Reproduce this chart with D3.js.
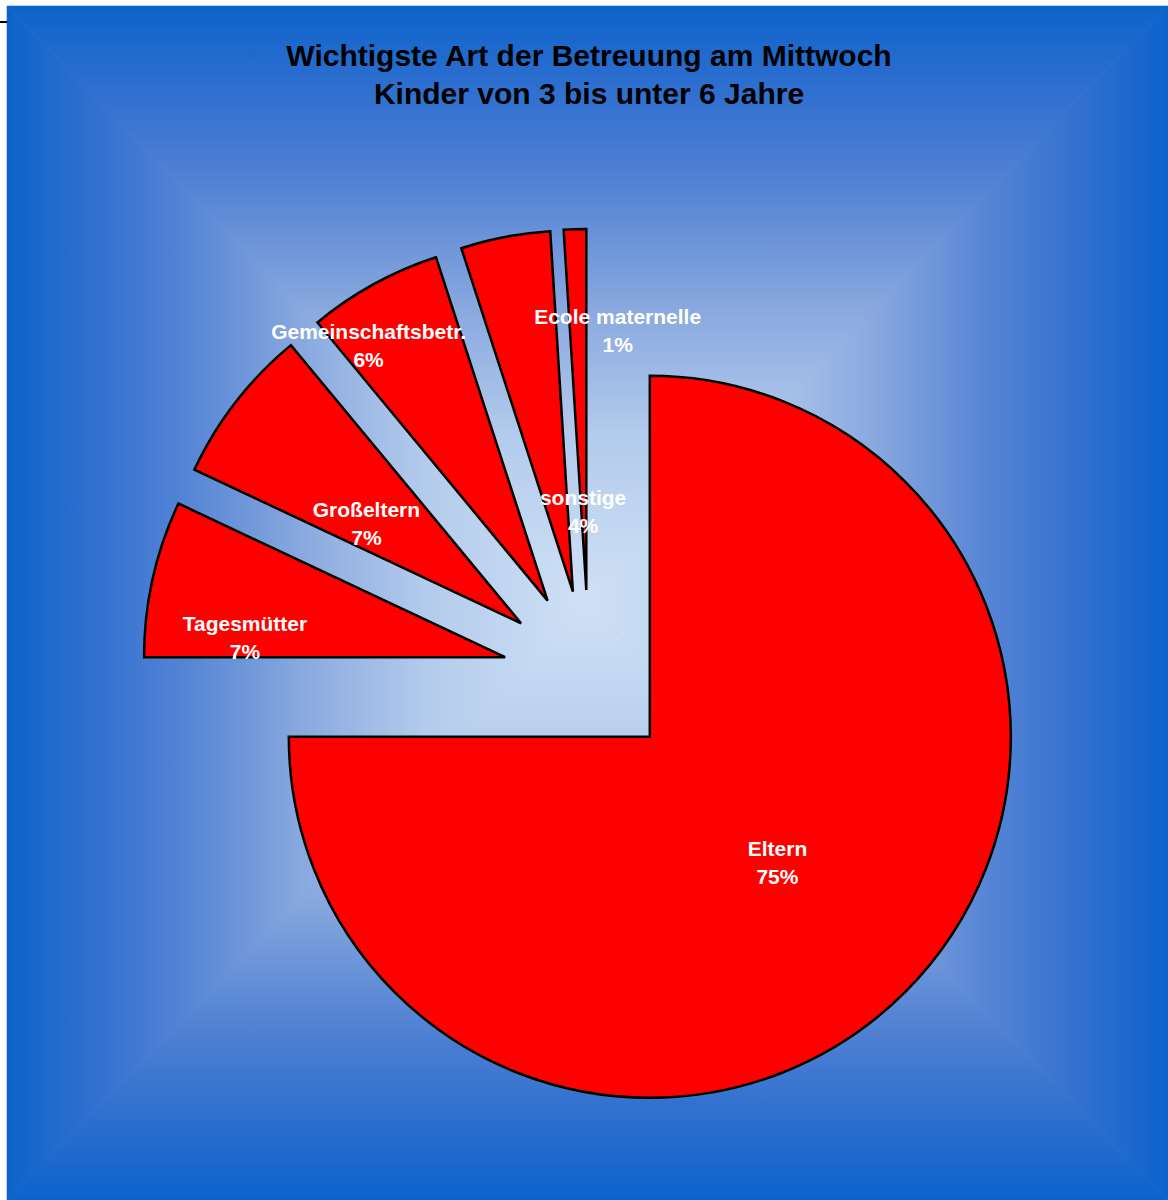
<!DOCTYPE html>
<html>
<head>
<meta charset="utf-8">
<script src="https://cdn.jsdelivr.net/npm/d3@7"></script>
<style>
  html, body { margin: 0; padding: 0; background: #ffffff; }
  svg { display: block; }
</style>
</head>
<body>
<div id="chart"></div>
<script>
// Data: main care type on Wednesday, children aged 3 to under 6
const categories = ["Eltern", "Tagesmütter", "Großeltern", "Gemeinschaftsbetr.", "sonstige", "Ecole maternelle"];
const shares = [75, 7, 7, 6, 4, 1];
const titleLines = ["Wichtigste Art der Betreuung am Mittwoch", "Kinder von 3 bis unter 6 Jahre"];
// label placement tweaks relative to each slice centroid
const labelNudge = [[0, -1], [-84, 20], [-12, 11], [-92, -96], [44, 98], [37, -79]];

const W = 1168, H = 1200;
const bg = { x0: 7, y0: 6, x1: 1168, y1: 1200 };
const pieCenter = [589, 676];
const radius = 361;
const explode = 86;

const svg = d3.select("#chart").append("svg")
  .attr("width", W).attr("height", H);

const defs = svg.append("defs");
const stops = [
  [0, "#0d63cb"], [0.15, "#3170cf"], [0.3, "#5383d4"],
  [0.5, "#87a7de"], [0.72, "#b3cbec"], [1, "#cfe1f5"]
];

// rectangular "from centre" gradient built from four triangles
const cx = (bg.x0 + bg.x1) / 2, cy = (bg.y0 + bg.y1) / 2;
const sides = [
  { id: "gT", pts: [[bg.x0, bg.y0], [bg.x1, bg.y0], [cx, cy]], g: [cx, bg.y0, cx, cy] },
  { id: "gB", pts: [[bg.x0, bg.y1], [bg.x1, bg.y1], [cx, cy]], g: [cx, bg.y1, cx, cy] },
  { id: "gL", pts: [[bg.x0, bg.y0], [bg.x0, bg.y1], [cx, cy]], g: [bg.x0, cy, cx, cy] },
  { id: "gR", pts: [[bg.x1, bg.y0], [bg.x1, bg.y1], [cx, cy]], g: [bg.x1, cy, cx, cy] }
];
sides.forEach(s => {
  const lg = defs.append("linearGradient").attr("id", s.id)
    .attr("gradientUnits", "userSpaceOnUse")
    .attr("x1", s.g[0]).attr("y1", s.g[1]).attr("x2", s.g[2]).attr("y2", s.g[3]);
  stops.forEach(st => lg.append("stop").attr("offset", st[0]).attr("stop-color", st[1]));
});

svg.append("rect")
  .attr("x", bg.x0).attr("y", bg.y0)
  .attr("width", bg.x1 - bg.x0).attr("height", bg.y1 - bg.y0)
  .attr("fill", "#7a9edb");

svg.append("g").selectAll("polygon").data(sides).join("polygon")
  .attr("points", d => d.pts.map(p => p.join(",")).join(" "))
  .attr("fill", d => `url(#${d.id})`)
  .attr("stroke", d => `url(#${d.id})`)
  .attr("stroke-width", 0.6);

// small frame tick at the top left
svg.append("line")
  .attr("x1", 0).attr("x2", bg.x0).attr("y1", 22).attr("y2", 22)
  .attr("stroke", "#000").attr("stroke-width", 2);

// title
const title = svg.append("text")
  .attr("text-anchor", "middle")
  .attr("font-family", "'Liberation Sans', Arial, sans-serif")
  .attr("font-weight", "bold")
  .attr("font-size", 30)
  .attr("fill", "#000");
titleLines.forEach((t, i) => {
  title.append("tspan").attr("x", 589).attr("y", 66 + i * 38).text(t);
});

// exploded pie
const pie = d3.pie().sort(null).startAngle(0).endAngle(2 * Math.PI);
const arcs = pie(shares);
const arc = d3.arc().innerRadius(0).outerRadius(radius);

const offset = d => {
  const m = (d.startAngle + d.endAngle) / 2;
  return [explode * Math.sin(m), -explode * Math.cos(m)];
};

const g = svg.append("g").attr("transform", `translate(${pieCenter[0]},${pieCenter[1]})`);

g.selectAll("path").data(arcs).join("path")
  .attr("transform", d => `translate(${offset(d)})`)
  .attr("d", arc)
  .attr("fill", "#ff0000")
  .attr("stroke", "#000")
  .attr("stroke-width", 2.5)
  .attr("stroke-linejoin", "miter");

const pct = d3.format(".0%");
const labels = g.selectAll("text.lbl").data(arcs).join("text")
  .attr("class", "lbl")
  .attr("text-anchor", "middle")
  .attr("font-family", "'Liberation Sans', Arial, sans-serif")
  .attr("font-weight", "bold")
  .attr("font-size", 21)
  .attr("fill", "#ffffff")
  .attr("transform", (d, i) => {
    const o = offset(d), c = arc.centroid(d);
    return `translate(${o[0] + c[0] + labelNudge[i][0]},${o[1] + c[1] + labelNudge[i][1]})`;
  });
labels.append("tspan").attr("x", 0).attr("y", -7).text((d, i) => categories[i]);
labels.append("tspan").attr("x", 0).attr("y", 21).text(d => pct(d.data / 100));
</script>
</body>
</html>
